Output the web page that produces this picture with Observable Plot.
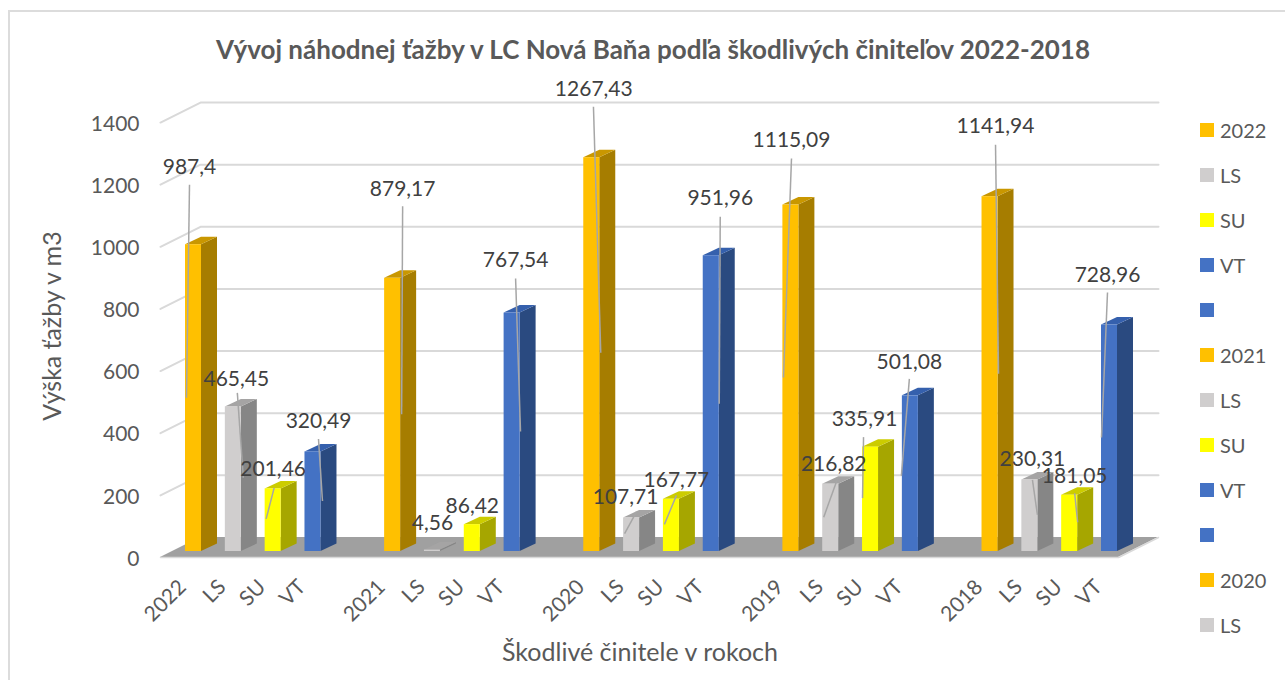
<!DOCTYPE html>
<html lang="sk">
<head>
<meta charset="utf-8">
<script src="https://cdn.jsdelivr.net/npm/d3@7"></script>
<script src="https://cdn.jsdelivr.net/npm/@observablehq/plot@0.6"></script>
<style>
  html, body { margin: 0; padding: 0; background: #fff; }
  #page { position: relative; width: 1285px; height: 680px; overflow: hidden; font-family: Lato, sans-serif; }
  #border { position: absolute; left: 8px; top: 10px; right: -4px; bottom: -4px; border: 2px solid #dcdcdc; box-sizing: border-box; }
  #chart { position: absolute; left: 0; top: 0; }
  #legend { position: absolute; left: 1200px; top: 107.5px; }
  .item { height: 45px; display: flex; align-items: center; font-size: 20px; color: #595959; }
  .swatch { width: 14px; height: 14px; margin-right: 6px; flex: none; }
</style>
</head>
<body>
<div id="page"><div id="border"></div><div id="chart"></div><div id="legend"></div></div>
<script>
const chartTitle = "Vývoj náhodnej ťažby v LC Nová Baňa podľa škodlivých činiteľov 2022-2018";
const yTitle = "Výška ťažby v m3";
const xTitle = "Škodlivé činitele v rokoch";
const categories = ["2022","LS","SU","VT","","2021","LS","SU","VT","","2020","LS","SU","VT","","2019","LS","SU","VT","","2018","LS","SU","VT"];
const values = [987.4,465.45,201.46,320.49,null,879.17,4.56,86.42,767.54,null,1267.43,107.71,167.77,951.96,null,1115.09,216.82,335.91,501.08,null,1141.94,230.31,181.05,728.96];
const valueLabels = ["987,4","465,45","201,46","320,49","","879,17","4,56","86,42","767,54","","1267,43","107,71","167,77","951,96","","1115,09","216,82","335,91","501,08","","1141,94","230,31","181,05","728,96"];
const yTicks = [0,200,400,600,800,1000,1200,1400];
const legendLabels = ["2022","LS","SU","VT","","2021","LS","SU","VT","","2020","LS"];

// Colours per category: front, side, top.
const palette = {
  year: ["#FFC000","#A67D00","#C99700"],
  LS:   ["#D0CECE","#868686","#A5A4A4"],
  SU:   ["#FFFF00","#A6A600","#CCCC00"],
  VT:   ["#4472C4","#2A4A80","#3560AD"]
};
const kind = c => (c === "LS" || c === "SU" || c === "VT") ? c : "year";

// Scale geometry
const X0 = 185, XSTEP = 39.826, Y0 = 557, YK = 0.3107;
const pxX = p => p / XSTEP, pxY = p => p / YK;           // pixel lengths -> scale units
const atX = p => (p - X0) / XSTEP;
const barW = pxX(16), barD = pxX(16), barRise = pxY(7.5), barBase = pxY(6);
const wallX = pxX(40), wallRise = pxY(20);
const xLeft = atX(160), xRight = atX(1118);

// Manually placed data labels: offsets from each bar's (x, value) point, in pixels.
const labelOff = {0:[4,-83],1:[11,-34],2:[8,-26],3:[13.5,-37],5:[18,-95],6:[8,-33],7:[8,-24],8:[11.5,-58.5],10:[10,-74],11:[2,-26.5],12:[13,-25],13:[17,-63],15:[8.6,-70.5],16:[11,-26],17:[2,-34],18:[7,-40],20:[13.5,-76],21:[10.6,-27],22:[13,-25],23:[6,-55.5]};
const leadFrom = {0:[4,-66],1:[12,-20],2:[9,-7],3:[13.5,-19],5:[18,-78],8:[11.5,-40.5],10:[9.7,-57],11:[13,-12.5],12:[13,-10],13:[17,-45],15:[8.6,-52.5],16:[15,-12],17:[1,-16],18:[7,-23],20:[13.5,-58],21:[10.6,-6],22:[13,-8],23:[6,-38.5]};
const leadTo = {0:[1,147],1:[18,65],2:[1,24],3:[17.5,43],5:[17,130],8:[16.4,112.5],10:[17,189],11:[1,9.5],12:[1,19],13:[16,142],15:[0.6,166.5],16:[1,27],17:[0,45],18:[-1,74],20:[16.5,171],21:[15.6,29],22:[16,21],23:[0,106.5]};

const bars = values.map((v,i) => ({i, v, c: categories[i], label: valueLabels[i], k: kind(categories[i])})).filter(d => d.v != null);

const front = bars.map(d => ({x1:d.i, x2:d.i+barW, y1:barBase, y2:barBase+d.v, fill:palette[d.k][0]}));
const side = bars.flatMap(d => [
  {z:d.i, x:d.i+barW, y1:barBase, y2:barBase+d.v, fill:palette[d.k][1]},
  {z:d.i, x:d.i+barW+barD, y1:barBase+barRise, y2:barBase+d.v+barRise, fill:palette[d.k][1]}
]);
const top_ = bars.flatMap(d => {
  const t = barBase + d.v;
  return [
    {z:d.i, x:d.i, y1:t, y2:t, fill:palette[d.k][2]},
    {z:d.i, x:d.i+barD, y1:t, y2:t+barRise, fill:palette[d.k][2]},
    {z:d.i, x:d.i+barW+barD, y1:t+barRise, y2:t+barRise, fill:palette[d.k][2]}
  ];
});
const floor = [
  {x:xLeft, y1:0, y2:0},
  {x:xLeft+wallX, y1:0, y2:wallRise},
  {x:xRight, y1:0, y2:wallRise},
  {x:xRight+wallX, y1:wallRise, y2:wallRise}
];
const gridLines = yTicks.slice(1).flatMap(t => [
  {t, x:xLeft, y:t},
  {t, x:xLeft+wallX, y:t+wallRise},
  {t, x:xRight+wallX, y:t+wallRise}
]);
const floorFront = [{x:xLeft,y:0},{x:xRight,y:0},{x:xRight+wallX,y:wallRise}];
const labels = bars.map(d => ({x:d.i+pxX(labelOff[d.i][0]), y:d.v-pxY(labelOff[d.i][1]), t:d.label}));
const leaders = bars.filter(d => leadFrom[d.i]).map(d => ({
  x1:d.i+pxX(leadFrom[d.i][0]), y1:d.v-pxY(leadFrom[d.i][1]),
  x2:d.i+pxX(leadTo[d.i][0]), y2:d.v-pxY(leadTo[d.i][1])
}));

const plot = Plot.plot({
  width: 1285, height: 680,
  marginLeft: 160, marginRight: 127, marginTop: 0, marginBottom: 123,
  style: {fontFamily: "Lato, sans-serif", background: "transparent"},
  x: {domain: [0, 23], range: [X0, X0 + 23 * XSTEP], axis: null},
  y: {domain: [0, 1400], range: [Y0, Y0 - 1400 * YK], axis: null},
  marks: [
    Plot.line(gridLines, {x:"x", y:"y", z:"t", stroke:"#d9d9d9", strokeWidth:2}),
    Plot.areaY(floor, {x:"x", y1:"y1", y2:"y2", fill:"#A0A0A0"}),
    Plot.line(floorFront, {x:"x", y:"y", stroke:"#d9d9d9", strokeWidth:1.5}),
    Plot.areaY(side, {x:"x", y1:"y1", y2:"y2", z:"z", fill:"fill"}),
    Plot.areaY(top_, {x:"x", y1:"y1", y2:"y2", z:"z", fill:"fill"}),
    Plot.rect(front, {x1:"x1", x2:"x2", y1:"y1", y2:"y2", fill:"fill"}),
    Plot.link(leaders, {x1:"x1", y1:"y1", x2:"x2", y2:"y2", stroke:"#a6a6a6", strokeWidth:1.5}),
    Plot.axisY({ticks: yTicks, tickFormat: d3.format("d"), tickSize:0, tickPadding:21, label:null, fontSize:21, color:"#595959", anchor:"left", dy:1.5}),
    Plot.axisX({ticks: categories.map((c,i)=>i).filter(i=>categories[i]), tickFormat:i=>categories[i], tickSize:0, tickPadding:26, tickRotate:-45, label:null, fontSize:21, color:"#595959", anchor:"bottom", dx:-3}),
    Plot.text(labels, {x:"x", y:"y", text:"t", fontSize:21, fill:"#404040"}),
    Plot.text([chartTitle], {frameAnchor:"top", lineAnchor:"middle", dx:-6.5, dy:50, fontSize:26, fontWeight:700, fill:"#595959"}),
    Plot.text([xTitle], {frameAnchor:"bottom", lineAnchor:"middle", dx:-19.5, dy:95, fontSize:25, fill:"#595959"}),
    Plot.text([yTitle], {frameAnchor:"left", textAnchor:"middle", lineAnchor:"middle", dx:-108, dy:47, rotate:-90, fontSize:25, fill:"#595959"})
  ]
});
document.getElementById("chart").append(plot);

const legend = document.getElementById("legend");
legendLabels.forEach(l => {
  const row = document.createElement("div");
  row.className = "item";
  const s = document.createElement("span");
  s.className = "swatch";
  s.style.background = l === "" ? palette.VT[0] : palette[kind(l)][0];
  const t = document.createElement("span");
  t.textContent = l;
  row.append(s, t);
  legend.append(row);
});
</script>
</body>
</html>
